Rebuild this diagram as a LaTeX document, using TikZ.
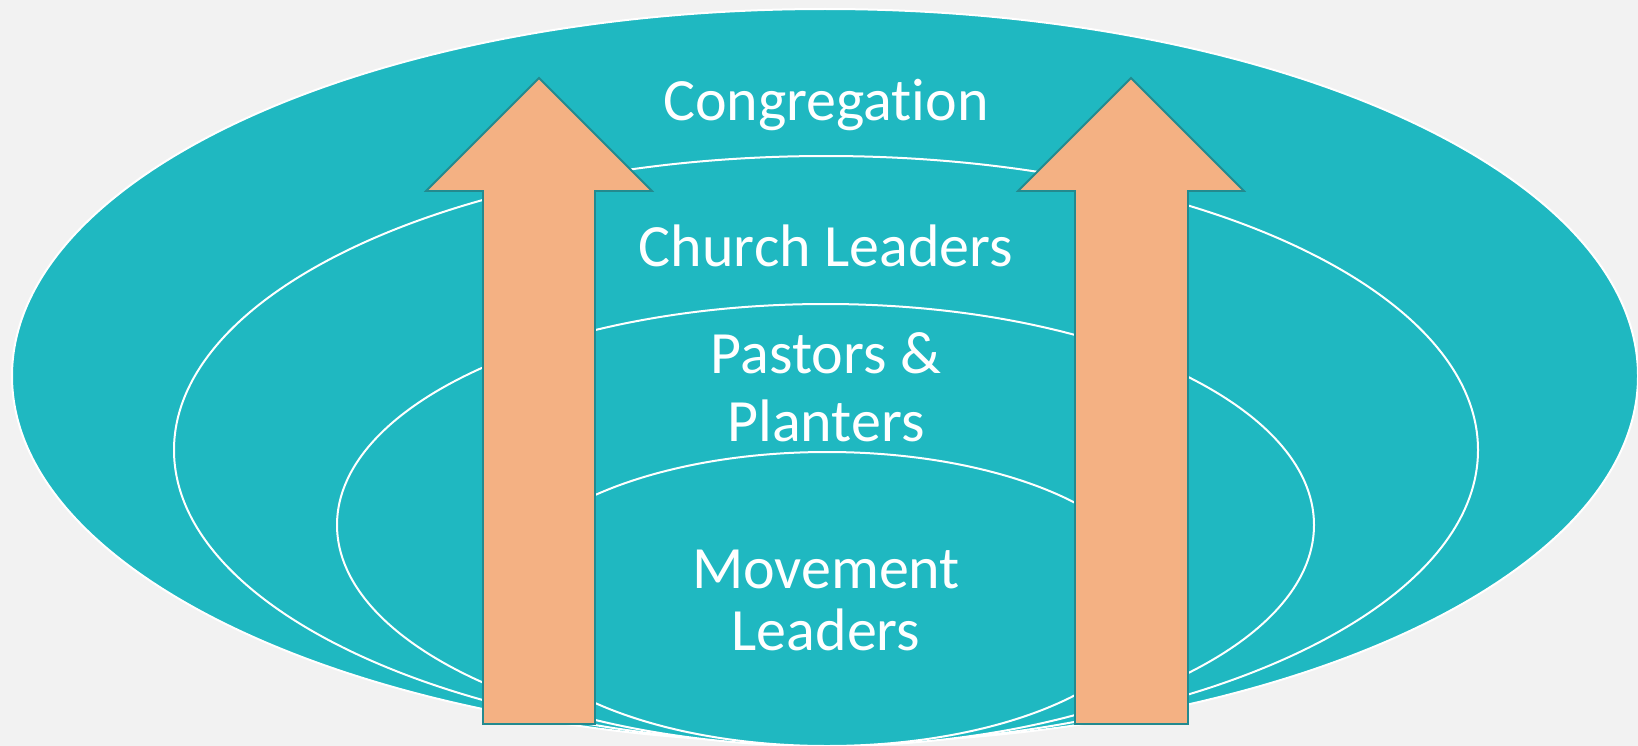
\documentclass[tikz,border=0pt]{standalone}
\usepackage{fontspec}
\setmainfont{Carlito}[Ligatures=NoCommon]
\definecolor{bgc}{HTML}{F2F2F2}
\definecolor{tealc}{HTML}{1FB8C1}
\definecolor{arrowfill}{HTML}{F4B183}
\definecolor{arrowline}{HTML}{238A8F}
\newcommand\twoline[3]{\vtop{\baselineskip=#3\relax\halign{\hfil##\hfil\cr#1\cr#2\cr}}}
\begin{document}
\begin{tikzpicture}[x=1bp,y=-1bp,
  ring/.style={fill=tealc,draw=white,line width=2bp},
  uparrow/.style={fill=arrowfill,draw=arrowline,line width=1.8bp,line join=miter},
  label/.style={text=white,inner sep=0pt,anchor=base,font=\fontsize{60bp}{72bp}\selectfont}]
\useasboundingbox (0,0) rectangle (1638,746);
\fill[bgc] (0,0) rectangle (1638,746);
% nested ellipses
\draw[ring] (825,376) ellipse [x radius=813, y radius=367];
\draw[ring] (826,450) ellipse [x radius=652, y radius=294];
\draw[ring] (825.5,525) ellipse [x radius=488.5, y radius=221];
\draw[ring] (827,599) ellipse [x radius=328, y radius=147];
% arrows
\draw[uparrow] (483,724) -- (483,191) -- (426,191) -- (539,78) -- (652,191) -- (595,191) -- (595,724) -- cycle;
\draw[uparrow] (1075,724) -- (1075,191) -- (1018,191) -- (1131,78) -- (1244,191) -- (1188,191) -- (1188,724) -- cycle;
% labels
\node[label] (cong) at (826,120) {Congregation};
\node[label] (church) at (826,266) {Church Leaders};
\node[label] (pastors) at (826,373) {\twoline{Pastors \&}{Planters}{68bp}};
\node[label] (movement) at (826,588) {\twoline{Movement}{Leaders}{62bp}};
\end{tikzpicture}
\end{document}
